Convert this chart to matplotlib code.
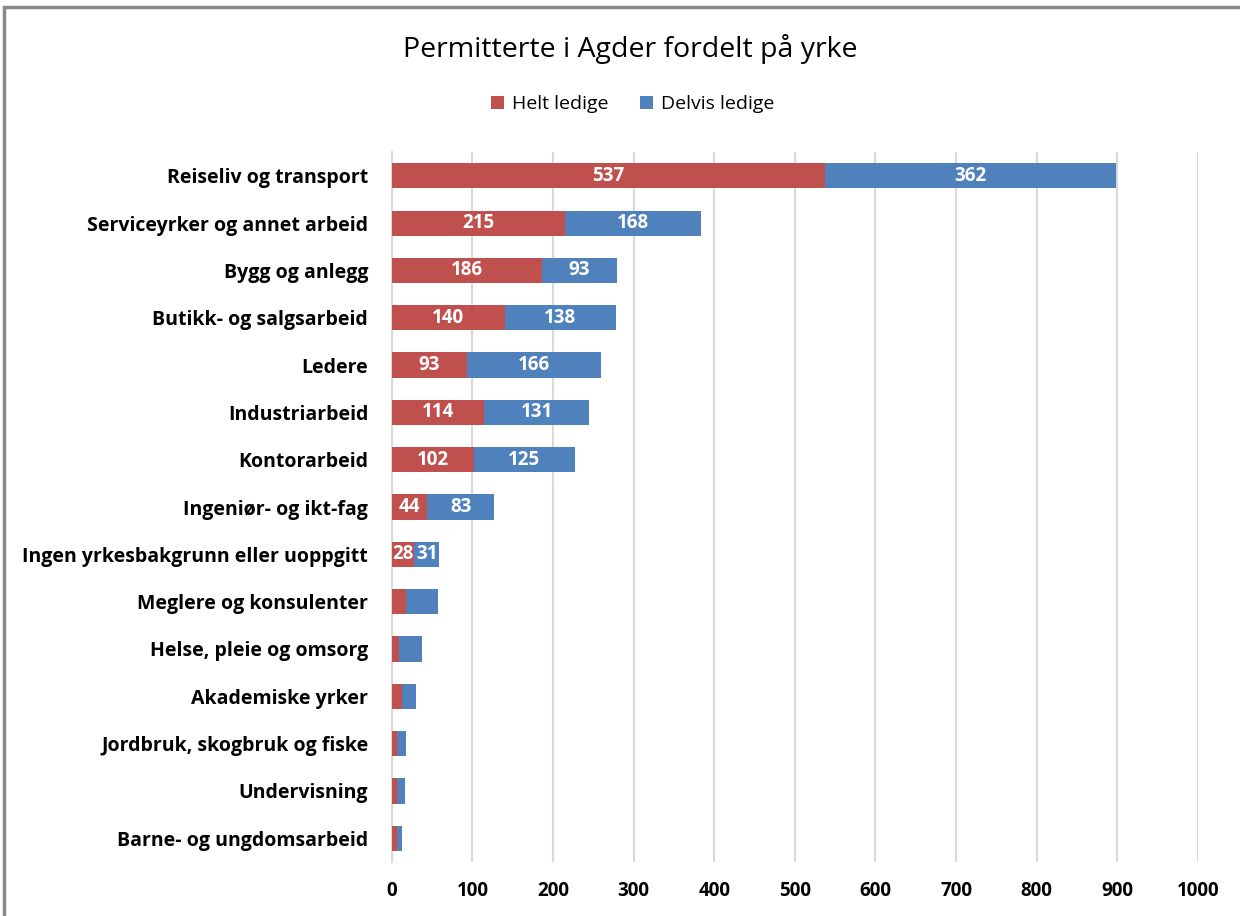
import matplotlib.pyplot as plt
from matplotlib.patches import Rectangle

# Permitterte i Agder fordelt på yrke
yrker = ['Reiseliv og transport', 'Serviceyrker og annet arbeid', 'Bygg og anlegg',
         'Butikk- og salgsarbeid', 'Ledere', 'Industriarbeid', 'Kontorarbeid',
         'Ingeniør- og ikt-fag', 'Ingen yrkesbakgrunn eller uoppgitt',
         'Meglere og konsulenter', 'Helse, pleie og omsorg', 'Akademiske yrker',
         'Jordbruk, skogbruk og fiske', 'Undervisning', 'Barne- og ungdomsarbeid']
helt = [537, 215, 186, 140, 93, 114, 102, 44, 28, 17, 9, 12, 6, 6, 6]
delvis = [362, 168, 93, 138, 166, 131, 125, 83, 31, 40, 28, 18, 11, 10, 7]
n_labelled = 9  # only the top rows carry data labels

red = '#C0504D'
blue = '#4F81BD'
plt.rcParams['font.family'] = ['Open Sans', 'DejaVu Sans']

fig = plt.figure(figsize=(12.4, 9.16), dpi=100)
ax = fig.add_axes([0.316, 0.059, 0.65, 0.775])

y = list(range(len(yrker)))
b1 = ax.barh(y, helt, height=0.53, color=red, label='Helt ledige', zorder=3)
b2 = ax.barh(y, delvis, left=helt, height=0.53, color=blue, label='Delvis ledige', zorder=3)

for bars in (b1, b2):
    for i, rect in enumerate(bars):
        if i >= n_labelled:
            continue
        w = rect.get_width()
        ax.text(rect.get_x() + w / 2, rect.get_y() + rect.get_height() / 2, str(int(w)),
                ha='center', va='center', color='white', fontsize=13.5,
                fontweight='bold', zorder=4)

ax.set_xlim(0, 1000)
ax.set_ylim(len(yrker) - 0.5, -0.5)
ax.set_xticks(range(0, 1001, 100))
ax.set_yticks(y)
ax.set_yticklabels(yrker, fontsize=14, fontweight='bold')
for lab in ax.get_xticklabels():
    lab.set_fontweight('bold')
    lab.set_fontsize(13.5)
ax.tick_params(axis='both', length=0)
ax.tick_params(axis='x', pad=14)
ax.tick_params(axis='y', pad=17)
ax.grid(axis='x', color='#D9D9D9', linewidth=1.5, zorder=0)
for s in ['top', 'right', 'bottom']:
    ax.spines[s].set_visible(False)
ax.spines['left'].set_color('#D9D9D9')
ax.spines['left'].set_linewidth(1.5)

fig.text(0.508, 0.947, 'Permitterte i Agder fordelt på yrke', ha='center', va='center', fontsize=20.5)
fig.legend(loc='center', bbox_to_anchor=(0.51, 0.886), ncol=2, frameon=False,
           fontsize=14, handlelength=0.7, handleheight=0.7, handletextpad=0.4,
           columnspacing=1.6)

fig.patches.append(Rectangle((0.003, -0.01), 1.1, 1.002, transform=fig.transFigure,
                             fill=False, edgecolor='#888888', linewidth=2.5))

fig.savefig('out.png', dpi=100)
